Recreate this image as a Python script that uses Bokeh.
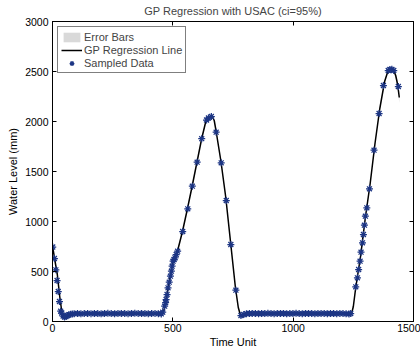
from bokeh.plotting import figure
from bokeh.models import (LinearAxis, Range1d, Legend, LegendItem, FixedTicker,
                          ColumnDataSource, CustomLabelingPolicy)
from bokeh.embed import file_html
from bokeh.resources import INLINE

# ---- data ----
sample_x = [1, 8, 14, 19, 24, 29, 34, 38, 44, 50, 56, 62, 68, 75, 82,
            90, 104, 118, 132, 146, 160, 174, 188, 202, 216, 230, 244, 258, 272, 286,
            300, 314, 328, 342, 356, 370, 384, 398, 412, 426, 440, 452,
            458, 466, 470, 472, 476, 480, 485, 490, 494, 497, 501, 505, 509, 514, 520,
            541, 562, 581, 601, 620, 640, 648, 660, 680, 701, 722, 741, 762, 783,
            795, 806, 818, 830, 843, 856, 869, 882, 895, 908, 921, 934, 947, 960, 973,
            986, 999, 1012, 1025, 1038, 1051, 1064, 1077, 1090, 1103, 1116, 1129, 1142,
            1155, 1168, 1181, 1194, 1207, 1220, 1232, 1239,
            1260, 1267, 1272, 1278, 1282, 1288, 1292, 1296, 1300, 1306, 1317, 1336, 1357,
            1375, 1395, 1402, 1410, 1418, 1437]
sample_y = [745, 630, 517, 410, 300, 200, 103, 85, 55, 45, 50, 60, 68, 72, 75,
            78, 80, 77, 79, 81, 78, 80, 79, 77, 80, 82, 79, 78, 80, 81,
            79, 78, 80, 82, 81, 79, 80, 78, 79, 81, 78, 76,
            93, 153, 190, 220, 270, 337, 393, 453, 503, 553, 603, 620, 637, 670, 703,
            900, 1127, 1353, 1593, 1828, 2015, 2035, 2050, 1893, 1587, 1210, 770, 313, 60,
            70, 78, 80, 79, 81, 78, 80, 79, 82, 80, 78, 79, 81, 80, 78,
            79, 80, 82, 79, 78, 80, 81, 79, 78, 80, 79, 81, 78,
            80, 79, 78, 81, 79, 77, 76, 80,
            347, 437, 520, 603, 693, 787, 870, 963, 1053, 1137, 1327, 1713, 2080,
            2360, 2510, 2520, 2522, 2510, 2350]

curve_x = [0, 10, 20, 30, 38, 44, 50, 58, 68, 80, 120, 200, 300, 400, 445, 455,
           462, 470, 480, 500, 520, 540, 560, 580, 600, 620, 635, 645, 655, 665, 672,
           680, 700, 720, 740, 760, 772, 780, 788, 800, 820, 900, 1000, 1100, 1200, 1235,
           1243, 1250, 1260, 1280, 1300, 1320, 1340, 1360, 1380, 1392, 1402, 1410, 1418,
           1426, 1434, 1441]
curve_y = [760, 610, 470, 250, 110, 60, 45, 50, 62, 72, 78, 79, 80, 79, 74, 68,
           100, 190, 330, 590, 710, 900, 1120, 1350, 1590, 1830, 1980, 2030, 2050, 2045, 2010,
           1900, 1600, 1240, 790, 340, 140, 70, 50, 66, 76, 79, 80, 79, 78, 72,
           80, 150, 340, 650, 1040, 1380, 1780, 2130, 2400, 2490, 2520, 2525, 2510,
           2460, 2370, 2240]
curve_err = [25, 20, 20, 20, 20, 20, 20, 20, 15, 15, 15, 15, 15, 15, 15, 15,
             15, 15, 15, 15, 15, 15, 15, 15, 15, 15, 15, 15, 15, 15, 15,
             15, 15, 15, 15, 15, 15, 15, 20, 15, 15, 15, 15, 15, 15, 15,
             15, 15, 15, 15, 15, 15, 15, 15, 15, 15, 15, 20, 25,
             30, 40, 55]

x_ticks = [0, 500, 1000, 1500]
y_ticks = [0, 500, 1000, 1500, 2000, 2500, 3000]

band_lo = [c - e for c, e in zip(curve_y, curve_err)]
band_hi = [c + e for c, e in zip(curve_y, curve_err)]

FONT = "Liberation Sans"

p = figure(width=420, height=350, output_backend="svg", toolbar_location=None,
           x_range=Range1d(0, 1500), y_range=Range1d(0, 3000),
           min_border_left=52, min_border_right=7, min_border_top=21, min_border_bottom=28,
           title="GP Regression with USAC (ci=95%)")
p.background_fill_color = "white"
p.border_fill_color = "white"
p.outline_line_color = "black"
p.outline_line_width = 1
p.xgrid.visible = False
p.ygrid.visible = False

p.title.align = "center"
p.title.text_font = FONT
p.title.text_font_size = "11px"
p.title.text_font_style = "normal"
p.title.standoff = 2

band_src = ColumnDataSource(dict(x=curve_x, lo=band_lo, hi=band_hi))
band = p.varea(x="x", y1="lo", y2="hi", source=band_src, fill_color="#d9d9d9", fill_alpha=1.0)
line = p.line(curve_x, curve_y, line_color="black", line_width=1.5)
pts = p.scatter(sample_x, sample_y, marker="asterisk", size=7, line_color="#1c3584", line_width=1.25)

def style_axis(ax, show_labels):
    ax.major_tick_in = 4
    ax.major_tick_out = 0
    ax.minor_tick_in = 0
    ax.minor_tick_out = 0
    ax.axis_line_color = "black"
    ax.major_tick_line_color = "black"
    ax.major_label_text_font = FONT
    ax.major_label_text_color = "black"
    ax.axis_label_text_font = FONT
    ax.axis_label_text_font_style = "normal"
    ax.axis_label_text_font_size = "11px"
    ax.axis_label_text_color = "black"
    if show_labels:
        ax.major_label_text_font_size = "10.5px"
    else:
        ax.major_label_text_font_size = "1px"
        ax.major_label_standoff = 0
        ax.major_label_policy = CustomLabelingPolicy(code="return new Set()")

xa = p.xaxis[0]
xa.ticker = FixedTicker(ticks=x_ticks)
xa.axis_label = "Time Unit"
xa.major_label_standoff = 2
xa.axis_label_standoff = 1
style_axis(xa, True)

ya = p.yaxis[0]
ya.ticker = FixedTicker(ticks=y_ticks)
ya.axis_label = "Water Level (mm)"
ya.major_label_standoff = 4
ya.axis_label_standoff = 3
style_axis(ya, True)

top = LinearAxis(ticker=FixedTicker(ticks=x_ticks))
style_axis(top, False)
p.add_layout(top, "above")
right = LinearAxis(ticker=FixedTicker(ticks=y_ticks))
style_axis(right, False)
p.add_layout(right, "right")

legend = Legend(items=[LegendItem(label="Error Bars", renderers=[band]),
                       LegendItem(label="GP Regression Line", renderers=[line]),
                       LegendItem(label="Sampled Data", renderers=[pts])],
                location="top_left")
legend.margin = 5
legend.padding = 3
legend.spacing = 0
legend.label_text_font = FONT
legend.label_text_font_size = "11px"
legend.label_height = 13
legend.glyph_height = 12
legend.glyph_width = 21
legend.label_standoff = 2
legend.border_line_color = "black"
legend.border_line_width = 1
legend.background_fill_alpha = 1
p.add_layout(legend)

open("out.html", "w").write(file_html(p, INLINE))
